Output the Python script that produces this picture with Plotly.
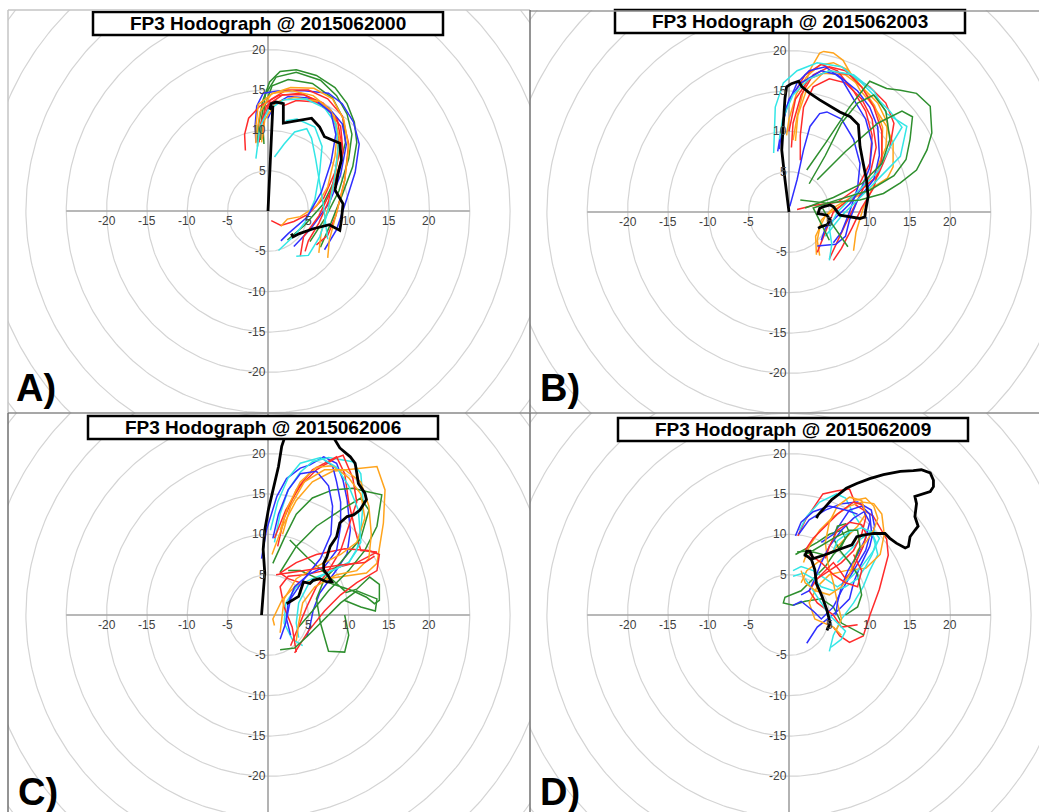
import numpy as np
import plotly.graph_objects as go

W, H = 1039, 812
S = 8.07  # pixels per m/s

# ---------------- data ----------------
TICKS = [-20, -15, -10, -5, 5, 10, 15, 20]
TICK_TEXT = ["-20", "-15", "-10", "-5", "5", "10", "15", "20"]
RING_RADII = [5, 10, 15, 20, 25, 30, 35, 40, 45]
AXIS_HALF = 25

TITLES = ["FP3 Hodograph @ 2015062000", "FP3 Hodograph @ 2015062003",
          "FP3 Hodograph @ 2015062006", "FP3 Hodograph @ 2015062009"]
PANEL_LABELS = ["A)", "B)", "C)", "D)"]

COLORS = {"red": "#ff2b2b", "blue": "#2f2fff", "green": "#2e8f2e",
          "orange": "#ffa41c", "cyan": "#33e6e6"}

A_obs = [(2.9,-2.8),(3.1,-3.2),(3.9,-2.8),(5.6,-2.2),(7.6,-1.7),(8.9,-2.4),(9.1,-1.1),(9.3,0.9),
         (8.3,2.6),(8.7,4.7),(9.1,6.3),(8.9,8.4),(7.0,9.2),(6.4,10.4),(5.4,11.5),(1.9,10.9),
         (1.9,13.3),(1.0,13.5),(0.4,13.3),(0.2,12.6),(0.6,13.0),(0.0,0.0)]
A_members = [
    ("green", [(6.5,-4.5),(7.8,-1.5),(9.2,2),(10.5,5.5),(11,8.5),(10.7,11),(9.8,13.3),(8.3,15.3),(6,16.8),(3.5,17.5),(1.5,17.3),(0.2,16),(-0.7,13.5),(-1.2,10.5),(-1.3,8)]),
    ("green", [(5.2,-3.8),(7,-1),(8.8,2.5),(10,6.5),(10.4,9.5),(9.8,12),(8.5,14.3),(6.5,16.2),(3.5,17.2),(1,16.6),(-0.3,14.5),(-0.8,11.5),(-0.9,8.8)]),
    ("green", [(2.4,-3.6),(4.5,-1.8),(6.8,0.8),(8.6,4.5),(9.6,8.5),(9.3,11.5),(8,14),(5.5,15.8),(2.5,16.3),(0.5,15.5),(-0.4,13),(-0.6,10),(-0.5,8.3)]),
    ("blue", [(7,-4.8),(8.5,-2.3),(9.6,1),(10.8,4.8),(11.3,8.3),(10.6,11),(9.2,13.3),(7.5,14.6),(4.5,14.9),(1.5,14.9),(-0.6,14.6),(-1.4,13),(-1.6,10.5),(-1.5,8.5)]),
    ("blue", [(3.2,-4.4),(5.3,-2.2),(7.6,1),(9,4.5),(9.7,8.2),(9.2,10.8),(7.5,12.8),(5,14),(2.5,14.2),(0.8,13.2),(0,11.5)]),
    ("red", [(0.4,-1.2),(1.6,-1.8),(3.2,-1.3),(5,-0.4),(6.9,1.6),(8.3,4.8),(9.1,8.3),(8.6,11.3),(6.8,13.4),(4,14.6),(1.3,14.3),(-1,13),(-2.4,11.5),(-2.9,9.5),(-2.8,7.5)]),
    ("red", [(4,-5.6),(4.4,-3.2),(6.3,-0.6),(8.2,3.3),(9.3,7.3),(9,10.5),(7.2,12.9),(4.5,14.4),(1.8,14.4),(-0.2,13),(-1,10.5),(-1.1,8.5)]),
    ("red", [(6,-4.2),(7.4,-3),(8.4,-0.6),(9.5,3.8),(10,8.3),(9.2,11.8),(7.4,13.9),(5,15),(2.3,15),(0.3,13.8),(-0.5,11.5),(-0.7,9)]),
    ("red", [(4.6,-5),(5,-3.7),(6.3,-1.5),(7.5,1.2),(8.4,5),(8.8,9),(8,12),(6,13.5),(3.5,13.7),(1.8,13)]),
    ("orange", [(1.6,-1.9),(2.4,-1),(4,-0.7),(6,0.6),(7.4,3),(8.3,6.8),(8.6,10),(7.8,12.5),(5.6,14.3),(3,14.9),(0.6,14.6),(-1.2,13.2),(-1.5,10.5),(-1.5,8.4)]),
    ("orange", [(7.4,-5.8),(7.6,-3.6),(8.5,-0.2),(9.5,3.8),(10,7.8),(9.4,11.3),(8,13.9),(5.7,15.2),(2.8,15.3),(0.4,14.5),(-1,12.3),(-1.4,9.5)]),
    ("orange", [(6.3,-5.2),(6.6,-2.6),(7.6,0.8),(8.4,4.8),(8.9,8.8),(8.2,11.8),(6.2,13.6),(3.3,14.1),(1,13.5),(-0.4,11.3),(-0.8,8.5)]),
    ("cyan", [(1.3,-4.9),(2.2,-4),(3.3,-3),(4.6,-1.4),(5.8,1.4),(6.4,4.8),(6.7,8),(5.8,10.4),(3.6,11.4),(2.2,11.2)]),
    ("cyan", [(0.8,6.7),(2,8.3),(3.3,9.8),(4.8,10.2),(5.4,9),(5.9,6.5),(6.4,3.5),(6.9,0.5),(7.2,-2),(7.4,-3.5)]),
    ("cyan", [(3.5,-5.6),(5,-5.5),(6.4,-3.2),(7.4,-0.2),(8.2,3.8),(8.7,7.8),(8.4,10.8),(7,12.8),(4.6,13.9),(2,13.8),(0,12.5),(-1,10.4),(-1.5,6.5)]),
    ("blue", [(1.6,-3.7),(2.5,-2.8),(4.8,-0.8),(6.6,2.3),(7.8,6),(8.4,9.5),(7.8,12.2),(6.2,13.5)]),
]

B_obs = [(3.6,-2.0),(4.0,-1.8),(4.7,-1.6),(5.1,-1.0),(4.7,-0.4),(3.6,-0.2),(3.8,0.45),(4.3,0.66),
         (5.1,0.87),(5.5,0.66),(6.3,-0.4),(7.1,-0.5),(8.8,-0.8),(9.4,-0.6),(9.5,0.25),(9.8,1.9),
         (9.6,4.0),(9.2,6.0),(8.8,8.1),(8.6,10.8),(7.6,11.8),(6.3,12.4),(5.1,13.1),(3.8,13.9),
         (2.6,14.7),(1.6,15.5),(1.2,16.2),(0.3,15.9),(-0.3,15.5),(-0.5,14.1),(-0.7,11),(-0.9,7.7),
         (-0.5,4),(0,0)]
B_members = [
    ("orange", [(3.4,-5.3),(3.3,-3),(4.5,-0.5),(7,1.2),(10,2.8),(12.2,4.2),(12.9,5.6),(12.9,8.5),(12.1,10.6),(10.5,13.1),(8.8,15.1),(7.6,17.2),(6.7,18.8),(5.5,19.7),(4.3,19.9),(3.8,19.7),(2.6,17.6),(1.8,15.1),(1,11.8),(0.5,8.9)]),
    ("orange", [(3.8,-5.4),(3.5,-3.5),(4,-1),(5.5,0.5),(8,2),(10.5,4.5),(12,8),(12.2,11),(11,13.5),(9,15.5),(7,17),(4.2,17.2),(2.2,15.2),(1.1,12),(0.8,8.8)]),
    ("orange", [(8,-4.8),(8.3,-2.5),(9.2,0.5),(10.6,3.5),(11.5,7),(11.6,10.5),(10.6,13.2),(9,15.5),(7.3,17.6),(5.5,18.5),(3.8,18.2),(2.2,16.8),(0.9,14.6),(0,11.5),(-0.3,9.5)]),
    ("red", [(5.5,-6),(6.5,-4.5),(7.8,-2),(9,0.5),(10.5,3),(11.5,6.5),(11.5,10),(10.5,13),(9,15.5),(7,17.5),(5,18),(3,17),(1.5,14.5),(0.5,11),(0.3,8)]),
    ("red", [(5,-5.8),(5.8,-4),(7,-1.5),(8.5,1.5),(10,4.5),(10.8,8),(10.3,11.5),(9,14),(7,16),(5,16.5),(3,15.5),(1.8,13),(1.4,9.5),(1.4,6.4)]),
    ("red", [(3.5,-5),(4.5,-2.5),(5.5,0),(8,2),(11,4.5),(12.5,8),(13,11),(12,13.5),(10,15.5),(7.5,17),(5,17.5),(2.5,16.5),(0.8,14),(0,10)]),
    ("red", [(1,0.3),(3,0.8),(6,1.2),(8.5,3),(10,6),(10.3,9.5),(9.5,12.5),(8,15),(6,17.5),(4,18.3),(2,17),(0.8,15)]),
    ("blue", [(4,-3.5),(4.5,-2),(6,-0.5),(7.5,1),(9,3),(10,5.5),(10.3,8.5),(9.5,11.5),(8,14),(6.5,16.5),(4.5,18),(2.5,17.5),(1,16),(-0.3,13),(-1,10),(-1.4,7.5)]),
    ("blue", [(0.1,0.7),(1,4),(1.8,7.7),(2.6,10.6),(3.8,12.2),(4.7,12.4),(6.5,11.5),(8,9),(8.8,6),(8.5,3),(7.5,0),(6.5,-2.5),(5.5,-3.8)]),
    ("blue", [(3.5,-4.2),(5.8,-4),(7,-3),(7.5,-1),(8.5,1.5),(10.5,4),(11.2,7),(11,10.5),(10,13),(8.5,15),(6,17),(4,17.5),(1.5,16),(0,14),(-0.8,11),(-1.2,7.8)]),
    ("cyan", [(5,-6),(5.3,-4),(5,-2),(6,0),(8.5,2.5),(11,5),(12.5,8),(14,10.5),(12.5,12.5),(11,14),(9,16),(6.5,18),(3.5,18.5),(1,17.5),(-0.7,16),(-1.7,13),(-1.9,7.3)]),
    ("cyan", [(4.5,-3),(6.5,-0.5),(9,2),(11,4),(13.8,6.9),(14.6,10.6),(12.1,12.2),(10.5,15),(8,17),(5,17.5),(2.5,16.5),(0.5,14.5),(-0.8,11.5),(-1.2,9)]),
    ("green", [(1.4,1.5),(4.7,1.1),(8.8,1.5),(11.7,2.3),(13.8,3.6),(15.8,5.2),(17.1,7.7),(17.7,9.8),(17.5,13.1),(15.8,14.7),(13.8,15.1),(12.1,15.3),(10,16.2),(7.5,13),(4.5,8.5),(2.2,5.2)]),
    ("green", [(5,-3.5),(4,-1.5),(3,0.5),(6,1.5),(10,2.7),(13,4.5),(14.5,6.5),(15,9),(15.3,11.8),(14,12.5),(11,11),(7,7.5),(3.5,4.0)]),
    ("green", [(2,0.5),(5.5,1.8),(9,3.5),(11.5,6),(12.5,9),(12,12.5),(10.5,14.5),(8.5,13.5),(6.5,11),(4.5,7),(2.5,3.5)]),
    ("green", [(7.3,-4.3),(6,-2.5),(5,-1),(4.2,0.4)]),
]

C_obs = [(2.3,1.4),(3.1,1.9),(3.8,2.3),(4.2,3.5),(4.4,4.1),(5.2,3.9),(5.6,4.3),(6.4,4.5),(7.3,4.1),
         (7.9,4.1),(7.5,4.8),(6.9,5.6),(6.9,6.4),(7.3,7.2),(7.7,8.5),(8.5,9.7),(8.9,11.4),(9.8,12.2),
         (10.6,12.4),(11.4,13.0),(12.2,14.3),(12.0,15.1),(11.2,16.3),(11.0,17.6),(10.8,18.8),
         (10.2,19.6),(8.9,20.7),(8.3,21.7),(7.5,23.5),(5,24),(2.5,23.5),(2.1,22.1),(1.7,20.9),
         (1.3,18.4),(0.7,15.9),(0.04,13.0),(-0.4,10.5),(-0.6,8.1),(-0.4,5.2),(-0.6,2.3),(-0.8,0)]
C_members = [
    ("blue", [(-0.8,7.0),(-0.2,10.5),(1.1,14.7),(2.3,16.9),(4.0,18.2),(5.2,18.6),(6.9,19.6),(8.5,18.8),(9.3,16.7),(9.8,14.3),(10.2,10.5),(9.8,7.6),(8.5,5.6),(7.3,3.9),(6.4,2.7),(5.6,0.6),(5.2,-1.4),(4.8,-2.7)]),
    ("cyan", [(0.8,9),(1.5,12.5),(2.5,15.5),(4,17.7),(5.5,19),(7.5,19.5),(10.5,19),(11.5,17.5),(11.8,14),(11.5,10.5),(11,8),(10,6.5),(8,5.5),(5.5,4.5),(3.5,3.5),(2.2,1.5),(2,-1),(3,-3),(4.3,-3.8)]),
    ("red", [(1.2,8.5),(2,12),(3.5,15.5),(5.5,18),(8.5,19.6),(9.5,17.5),(10,14),(10.8,10.5),(11.5,8),(13.5,7.8),(11,6.5),(7,5.5),(4.5,5),(2.5,4.8),(1.5,3.5),(2,1),(3,-1.5),(3.5,-4.6)]),
    ("orange", [(0.5,7.5),(1.8,11),(3.5,14.2),(5.5,16.5),(8,17.8),(11.2,18.2),(13.5,18.4),(14.5,15.5),(14.3,11.4),(13.9,8.9),(13.5,6.4),(12.2,5.2),(9,4.7),(6,4.3),(3.5,3.7),(1.8,2),(0.6,-0.5),(0.8,-1.3)]),
    ("green", [(0.6,6.4),(2,9.5),(3.5,12.5),(5.5,14.5),(8,15.5),(10.5,15.7),(12.2,15.3),(14.1,14.9),(13.5,11),(12,8),(10,5.5),(7.5,3),(5.5,0.5),(3.8,-1.5)]),
    ("green", [(1.5,5.3),(3.5,8.5),(6,11),(9,13),(11.5,14.5),(12.5,13),(11.5,9.5),(9,6.5),(7,4.5),(6,2),(6.5,-1),(7.5,-4.5),(9.5,-4.6),(10,-2.5),(9.5,0)]),
    ("green", [(2.7,9.3),(5,7),(7.5,4.8),(9.7,2.8),(11,3.2),(12.6,4.7),(13.8,3.8),(13.8,1.8),(13.2,1.4),(12.2,2.2),(10.5,3.0),(8.1,3.8),(6,4.6),(4,5.5),(2.5,5.5)]),
    ("red", [(0.8,9.5),(2.2,13),(4,16),(6,18),(8.5,19.5),(9.3,19.8),(10.5,17),(11,14),(10,11),(9,8),(7.5,5.5),(6,3.5),(4.8,1),(3.5,-2),(2.8,-3.8)]),
    ("red", [(3.3,-4.7),(5,-2),(7,0.5),(9,2.5),(11,4),(13.5,5.5),(13.8,7.5),(12.5,8),(9.5,8.2),(6,7.5),(3.5,6.5),(1.5,5.2),(2.5,4.5),(4,4)]),
    ("blue", [(1.5,-3),(2.2,-1),(2.5,1.5),(3.3,3.5),(5,5),(7,6),(8.5,8),(9,11),(9,14),(8.5,16.5),(8,18.5),(7,19.2)]),
    ("orange", [(1.5,-2.2),(1.8,0),(2,2),(3.5,4.5),(6,6),(9,7.5),(11,9),(12,12),(11.5,15),(10,17),(8,18.5),(6,18.3),(4,16.5),(2.5,13.5),(1.5,10.5)]),
    ("cyan", [(3.8,-2.8),(3.5,-1),(3.8,1.5),(5,3.8),(7.5,5.3),(10,6.5),(11.5,9),(11.2,13),(10,16),(8.5,18.3),(6.5,19.5),(4,18.8),(2.5,17),(1.2,14),(0.3,10.5)]),
    ("blue", [(2.8,-2.5),(2.3,-0.5),(2.8,2),(4.5,4.5),(6.5,7),(7.8,10),(8,13.5),(7.5,16),(6,17.8),(4,17.5),(2.5,15.5),(1.3,12.5),(0.6,9.5)]),
    ("orange", [(3.5,-3.2),(3.8,-1),(4.3,1.5),(5.8,3.5),(8.5,5),(11,5.5),(12.5,7),(12.8,10),(12.5,13.5),(11.5,16.5),(9.5,18),(7,18),(4.5,16.5),(2.8,13.5),(1.8,10)]),
    ("green", [(1.5,-4.3),(3.3,-4.1),(5,-2.5),(7,-0.5),(9,1.5),(11,3),(13.5,2),(13.3,0.5),(11.5,1),(9.5,1.8)]),
    ("red", [(1,5),(3,5.3),(6,5.8),(9,6.2),(12,6.5),(13.2,7.3)]),
]

D_obs = [(4.7,-1.9),(5.1,-1.0),(4.7,0.6),(4.1,2.3),(3.4,3.9),(3.2,5.6),(2.8,6.8),(2.4,7.2),(2.0,7.4),
         (2.2,7.9),(2.6,7.9),(3.0,7.0),(4.3,7.4),(5.5,7.9),(6.7,8.3),(7.8,8.7),(8.4,9.7),(9.2,9.9),
         (10.5,10.1),(11.9,10.1),(12.5,9.5),(13.3,8.9),(14.4,8.3),(14.8,8.5),(15.0,9.7),(15.6,10.5),
         (16.0,11.0),(15.6,12.2),(15.8,13.8),(15.6,14.7),(16.2,14.9),(16.9,15.1),(17.5,15.3),
         (17.9,15.9),(17.9,16.7),(17.5,17.6),(16.4,18.0),(15.4,17.9),(13.8,17.8),(11.7,17.4),
         (10.0,16.9),(8.4,16.3),(7.1,15.7),(6.1,14.9),(5.3,14.3),(4.5,13.4),(3.6,12.4),(3.4,12.0)]
D_members = [
    ("red", [(1.1,9.8),(2.1,11.9),(4.2,15),(6,15.4),(7.5,15.6),(8.3,13.6),(10.4,12.3),(12.1,9.4),(12.3,7.4),(11.2,3.2),(10,-0.1),(9.2,-2.6),(7.5,-3.4),(6.3,-2.6),(5.5,-1.5)]),
    ("cyan", [(1.3,10.5),(2.2,12.2),(3.8,14),(5.9,15),(7,14.5),(8,12.5),(9,11),(10.5,9.5),(11,7.5),(10,5.5),(9.2,3.5),(8,1.5),(6.5,-0.5),(5.5,-2.5),(5,-4.5)]),
    ("blue", [(1.2,10),(2.5,11.8),(4.5,13),(6.5,13.8),(8.5,14),(10.2,13),(10.6,11),(10,8.5),(8.8,6),(8,4),(7.5,2),(6,0.5),(4.5,-0.7),(3.5,-1.5),(2.2,-3.5)]),
    ("green", [(0.8,7.5),(2,8.2),(3.5,9),(5,10),(6.5,10.5),(7,9.5),(6.5,8.5),(5.5,7.5),(4.5,6),(3,4.5),(1.5,3),(-0.5,2.2),(-0.7,1.5),(0.5,1.2),(2,1.7),(4,2),(5.5,1),(6.5,-1),(7.5,-1.5),(9.3,-2.5)]),
    ("orange", [(1.8,6.5),(2.5,8.5),(3.8,10.5),(5.5,12.2),(7.5,13.5),(9,14),(10.5,13.8),(11.5,12.5),(11.8,10),(11.3,7.5),(9.5,5.8),(7,5.5),(5,5),(3.5,3.5),(2.5,1.5),(3.2,-0.5),(5.5,-1.5),(6.5,-2.5)]),
    ("blue", [(0.5,1.2),(1.5,1.7),(3,0.5),(4,-0.5),(5.5,1),(6.5,3),(8,5.5),(9.5,8),(10.2,10.5),(10,12.5),(9,13.5),(7.5,13),(6.5,11.5),(5.5,10),(4,9)]),
    ("cyan", [(0.5,5.5),(1.5,6),(3,5.5),(4.5,4.5),(6,3.5),(7.5,4.5),(9,6),(10.5,8),(11.2,9.5),(10.5,10.5),(9,9.5),(7.5,8),(6,6.5)]),
    ("red", [(2,8),(3,9.5),(4.5,11),(6,12.5),(8,14),(9.2,13.6),(9.5,12),(9,10),(8,8),(6.5,6.5),(5,5.5),(3.5,4.5),(2.5,3),(3.5,1.5),(5.5,0),(6.5,-1.5),(8.5,-1.2)]),
    ("orange", [(1.5,4),(2.2,5.5),(3.5,6.5),(5.5,8),(7,9.5),(8.5,11),(9.5,12.5),(9,14.2),(7.5,14.6),(6,13.5),(5,11.5),(4.5,9),(4.8,6.5),(5.5,4),(6,1.5),(6.5,-0.5),(5.8,-2)]),
    ("cyan", [(2,4.5),(3,3),(4,1.5),(5,0),(6,-1),(7,-2),(6.5,-3),(5.2,-4)]),
    ("green", [(1.8,7.5),(3,7.8),(4.5,7.4),(6,8),(6.8,9.2),(7.5,10.2),(7,11.3),(6,11),(5.5,9.5),(6.3,8),(7.5,6.5),(8.5,5),(9,2.5),(8.5,1),(7,0)]),
    ("blue", [(1.5,2.5),(2.5,3),(3.2,4.5),(4,6.5),(5,8.5),(6.5,10.5),(8,12),(9.3,12.8),(10,11.5),(9.5,9.5),(8.5,7.5),(7.3,5.5),(6.5,3.5),(6,1.5),(5.8,0)]),
    ("red", [(3.5,4.5),(4.5,5.5),(5.5,6.5),(6.3,5.5),(7,4.5),(7.8,5.5),(8.5,7),(9.2,8.5),(9.6,10),(9,11.2),(7.5,11.5),(6,10.5),(5,8.5),(4.5,7)]),
    ("cyan", [(0.5,4.8),(1.8,5.2),(3,4.5),(4,3.5),(5.5,3),(7,3.5),(8.5,4.5),(9.5,6),(10.3,7.5),(10.8,9),(10.2,10.3),(9,10.8),(7.5,10.3),(6,9.2),(5.5,8)]),
    ("orange", [(1.5,5.5),(2,4),(3.3,3),(5,2.5),(6.5,3.5),(7.5,5),(8,6.5),(8.5,8),(9.5,9),(10.5,10.5),(11,12),(10.5,13.5),(9.5,14.5),(8,14.2)]),
    ("blue", [(0.8,9.8),(1.5,11.5),(3,12.8),(5,13.5),(7,13),(8.5,12.5)]),
    ("red", [(2.5,7.5),(4,6.5),(5.5,5),(7,4),(8.5,3.5),(9,5.5),(8,7.5)]),
    ("green", [(1,7.8),(3,8),(5.5,9.5),(7.5,10.5),(8.5,10.5),(8.8,8.5),(8,6.5)]),
]

# ---------------- layout geometry (pixels) ----------------
# (x0, x1), (y0, y1) plot area in px; (ox, oy) pixel of the origin
PANELS = [
    ((8, 530), (10, 413), (268, 211)),
    ((530, 1039), (10, 413), (789, 212)),
    ((8, 530), (413, 812), (268, 615)),
    ((530, 1039), (413, 812), (789, 615)),
]
TITLE_BOXES = [(93, 443, 12, 35), (615, 965, 10, 33), (88, 438, 416, 439), (618, 968, 418, 441)]
LABEL_POS = [(14, 388), (538, 388), (16, 792), (538, 792)]

OBS = [A_obs, B_obs, C_obs, D_obs]
MEMBERS = [A_members, B_members, C_members, D_members]

fig = go.Figure()
theta = np.linspace(0, 2 * np.pi, 361)
annotations = []
shapes = []

for i, ((x0, x1), (y0, y1), (ox, oy)) in enumerate(PANELS):
    sfx = "" if i == 0 else str(i + 1)
    xa, ya = "x" + sfx, "y" + sfx
    fig.update_layout(**{
        "xaxis" + sfx: dict(domain=[x0 / W, x1 / W], range=[(x0 - ox) / S, (x1 - ox) / S],
                            visible=False, anchor=ya, fixedrange=True),
        "yaxis" + sfx: dict(domain=[1 - y1 / H, 1 - y0 / H], range=[(oy - y1) / S, (oy - y0) / S],
                            visible=False, anchor=xa, fixedrange=True),
    })
    # range rings
    rx, ry = [], []
    for r in RING_RADII:
        rx += list(r * np.cos(theta)) + [None]
        ry += list(r * np.sin(theta)) + [None]
    fig.add_trace(go.Scatter(x=rx, y=ry, mode="lines", line=dict(color="#d4d4d4", width=1.2),
                             xaxis=xa, yaxis=ya, hoverinfo="skip", showlegend=False))
    # axes
    fig.add_trace(go.Scatter(x=[-AXIS_HALF, AXIS_HALF, None, 0, 0],
                             y=[0, 0, None, -AXIS_HALF, AXIS_HALF], mode="lines",
                             line=dict(color="#a0a0a0", width=1.6),
                             xaxis=xa, yaxis=ya, hoverinfo="skip", showlegend=False))
    # members
    for cname, pts in MEMBERS[i]:
        fig.add_trace(go.Scatter(x=[p[0] for p in pts], y=[p[1] for p in pts], mode="lines",
                                 line=dict(color=COLORS[cname], width=1.5),
                                 xaxis=xa, yaxis=ya, hoverinfo="skip", showlegend=False))
    # observed
    obs = OBS[i]
    fig.add_trace(go.Scatter(x=[p[0] for p in obs], y=[p[1] for p in obs], mode="lines",
                             line=dict(color="black", width=2.8),
                             xaxis=xa, yaxis=ya, hoverinfo="skip", showlegend=False))
    # tick labels
    for t, txt in zip(TICKS, TICK_TEXT):
        annotations.append(dict(x=t, y=0, xref=xa, yref=ya, text=txt, showarrow=False,
                                xanchor="center", yanchor="top", yshift=-1,
                                font=dict(family="Liberation Sans, Arial", size=12, color="#404040")))
        annotations.append(dict(x=0, y=t, xref=xa, yref=ya, text=txt, showarrow=False,
                                xanchor="right", yanchor="middle", xshift=0,
                                font=dict(family="Liberation Sans, Arial", size=12, color="#404040")))
    # title box
    bx0, bx1, by0, by1 = TITLE_BOXES[i]
    shapes.append(dict(type="rect", xref="paper", yref="paper", x0=bx0 / W, x1=bx1 / W,
                       y0=1 - by1 / H, y1=1 - by0 / H, fillcolor="white",
                       line=dict(color="black", width=2.5), layer="above"))
    annotations.append(dict(x=(bx0 + bx1) / 2 / W, y=1 - (by0 + by1) / 2 / H, xref="paper", yref="paper",
                            text="<b>" + TITLES[i] + "</b>", showarrow=False, xanchor="center", yanchor="middle",
                            font=dict(family="Liberation Sans, Arial", size=19, color="black")))
    lx, ly = LABEL_POS[i]
    annotations.append(dict(x=lx / W, y=1 - ly / H, xref="paper", yref="paper",
                            text="<b>" + PANEL_LABELS[i] + "</b>", showarrow=False,
                            xanchor="left", yanchor="middle",
                            font=dict(family="Liberation Sans, Arial", size=38, color="black")))

# panel frame lines
FRAME = [  # (x0, y0, x1, y1, color)
    (8, 10, 530, 10, "#c4c4c4"), (8, 10, 8, 413, "#c4c4c4"),
    (530, 11, 1039, 11, "#9a9a9a"), (530, 10, 530, 413, "#707070"),
    (8, 413, 530, 413, "#8a8a8a"), (8, 413, 8, 812, "#707070"),
    (530, 413, 1039, 413, "#8a8a8a"), (530, 413, 530, 812, "#707070"),
]
for fx0, fy0, fx1, fy1, col in FRAME:
    shapes.append(dict(type="line", xref="paper", yref="paper", x0=fx0 / W, x1=fx1 / W,
                       y0=1 - fy0 / H, y1=1 - fy1 / H, line=dict(color=col, width=1.5), layer="above"))

fig.update_layout(width=W, height=H, margin=dict(l=0, r=0, t=0, b=0),
                  paper_bgcolor="white", plot_bgcolor="white",
                  annotations=annotations, shapes=shapes, showlegend=False)
fig.write_html("out.html")
